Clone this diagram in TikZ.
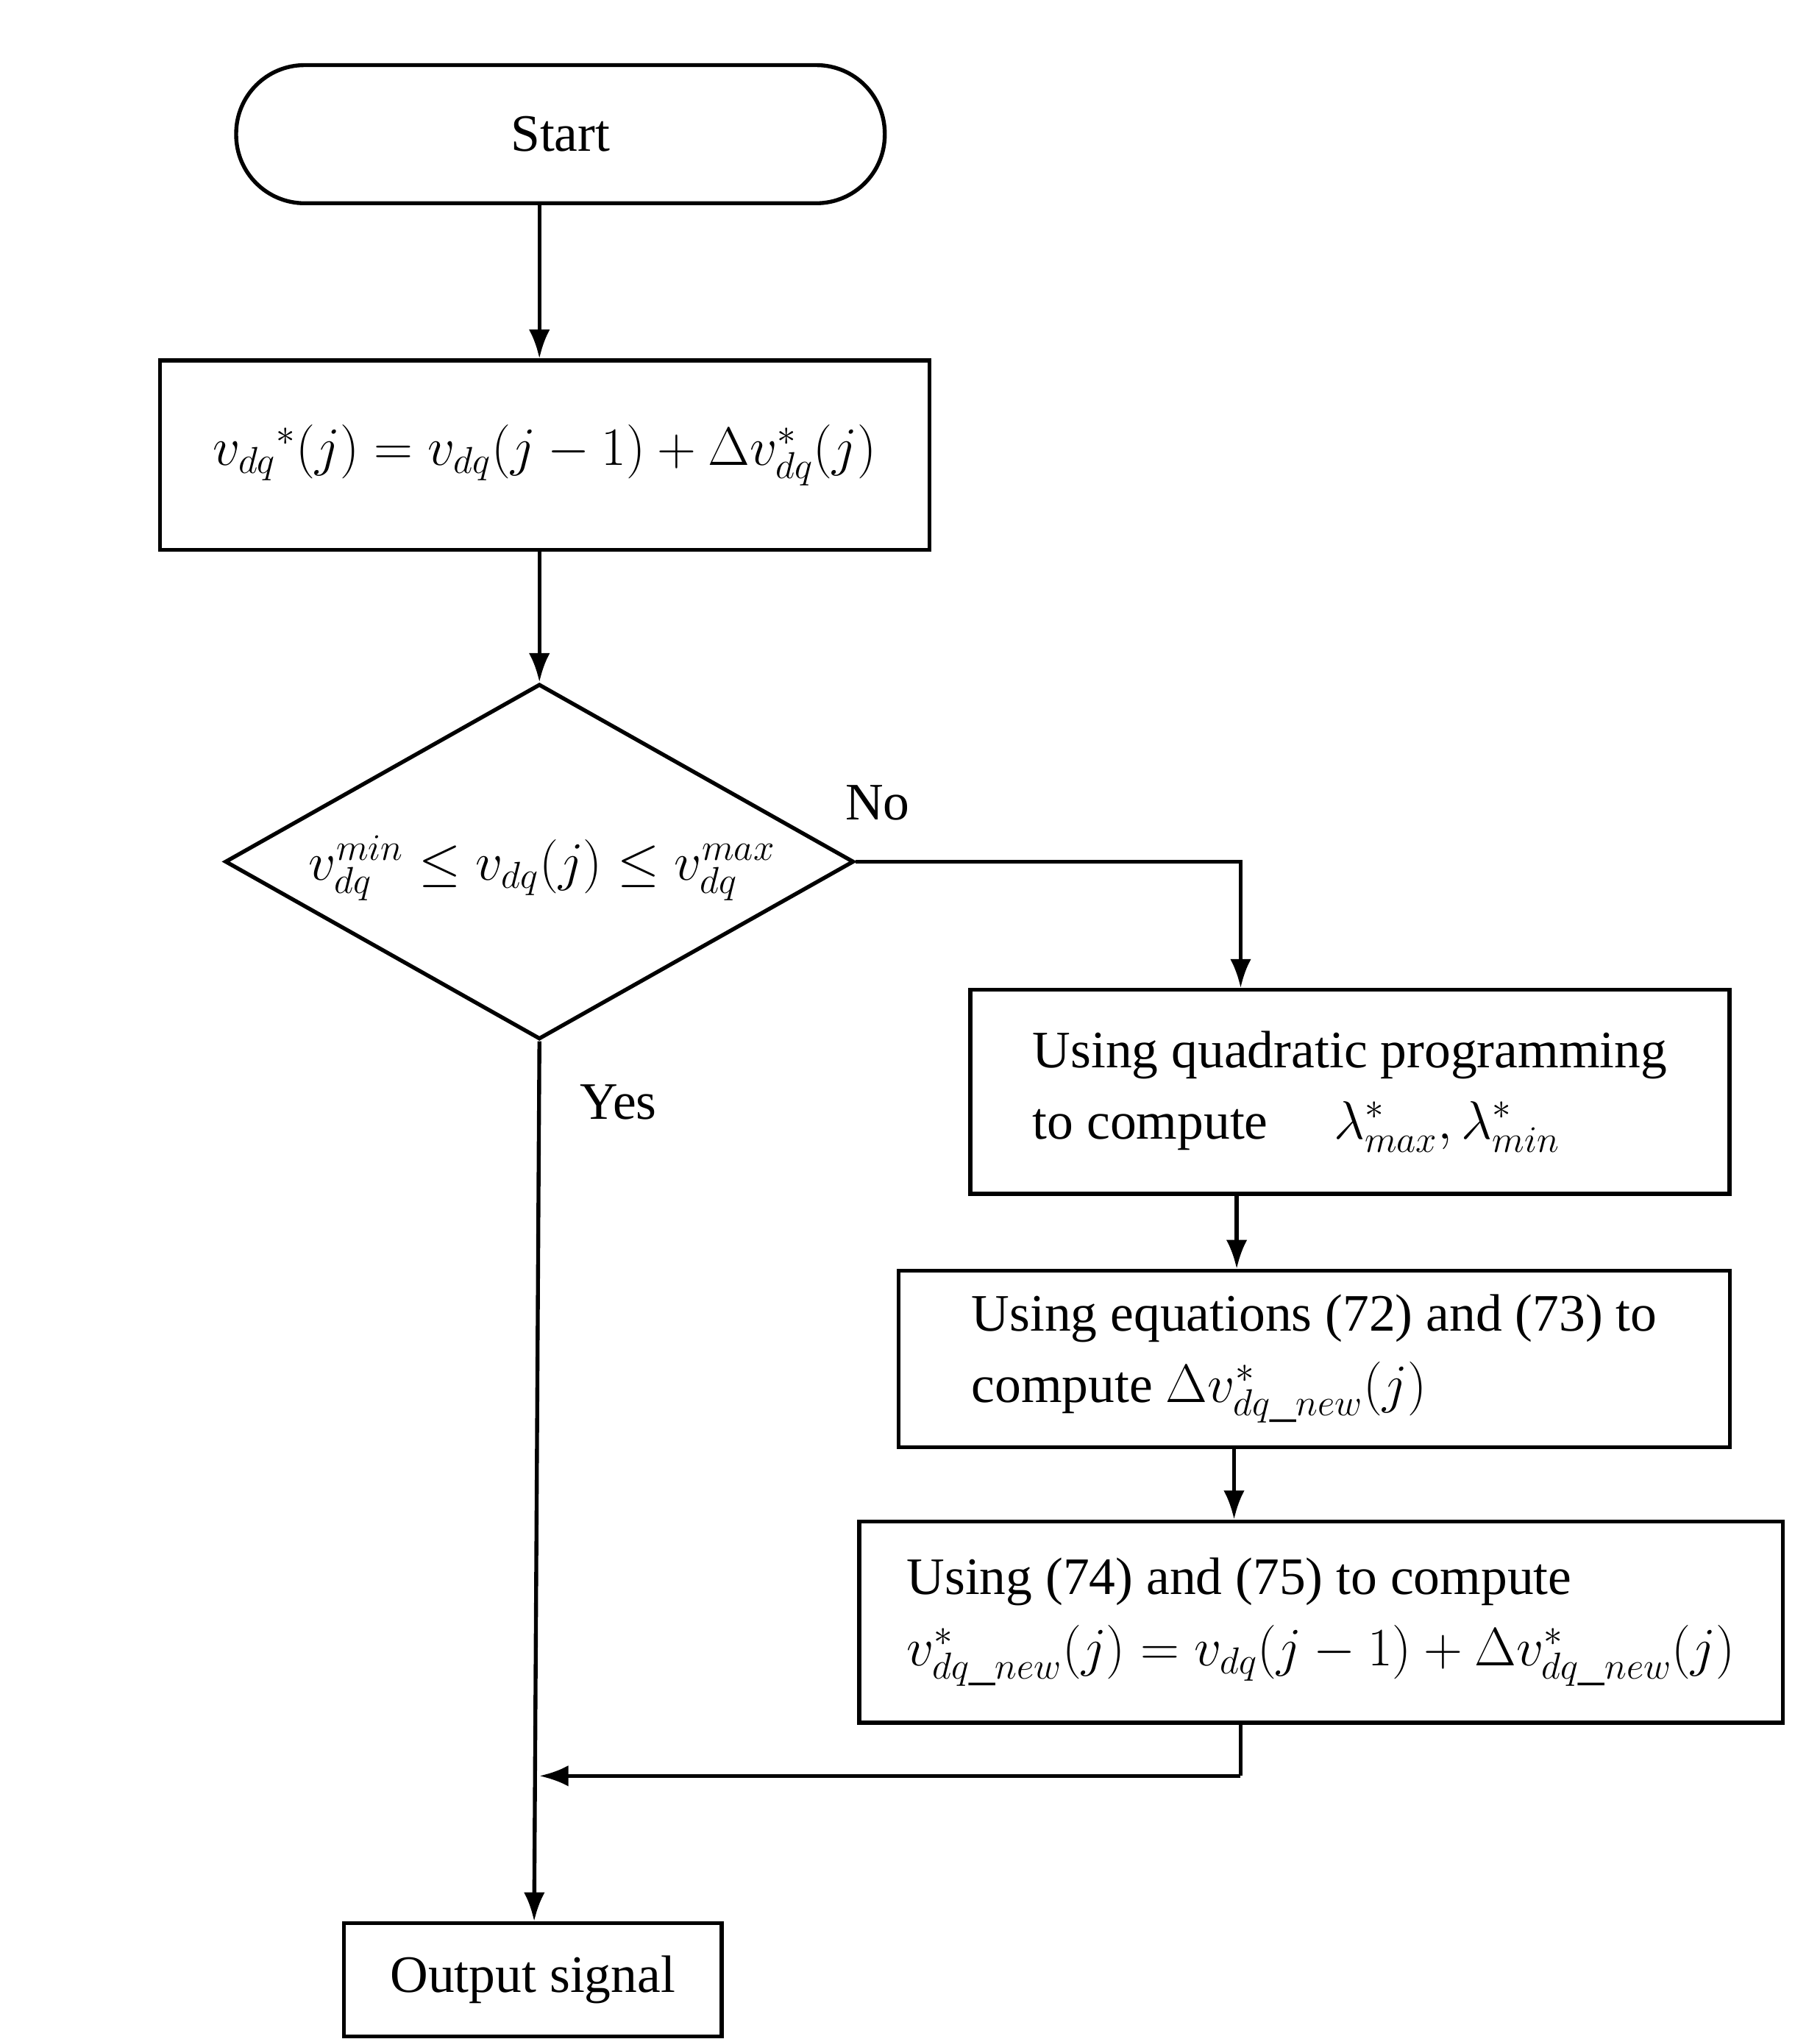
\documentclass[tikz,border=0pt]{standalone}
\usepackage{graphicx}
\usepackage{fontspec}
\setmainfont{Liberation Serif}
\newcommand{\mth}[1]{\scalebox{1.65}{\fontsize{24}{30}\selectfont$#1$}}
\usetikzlibrary{shapes.geometric,arrows.meta}
\begin{document}
\begin{tikzpicture}[x=1pt,y=-1pt,
  box/.style={draw,line width=3pt,inner sep=0pt,font=\fontsize{40}{54}\selectfont},
  arr/.style={line width=3pt,-{Latex[length=22pt,width=16pt]}},
  ln/.style={line width=3pt},
  lab/.style={font=\fontsize{40}{50}\selectfont}]
\useasboundingbox (0,0) rectangle (1383,1550);
\node[box,rounded corners=52pt,minimum width=493pt,minimum height=105pt] (start) at (426,102) {Start};
\node[box,minimum width=585pt,minimum height=144pt] (b1) at (414,346) {\mth{v_{dq}{}^{*}(j)=v_{dq}(j-1)+\Delta v^{*}_{dq}(j)}};
\node[draw,line width=3pt,diamond,aspect=1.77,minimum width=478pt,minimum height=270pt,inner sep=0pt] (d) at (410,655) {};
\node[lab] at (412,660) {\mth{v^{min}_{dq}\le v_{dq}(j)\le v^{max}_{dq}}};
\node[box,minimum width=577pt,minimum height=155pt,align=left] (q) at (1026,830) {Using quadratic programming\\to compute \quad \mth{\lambda^{*}_{max},\lambda^{*}_{min}}};
\node[box,minimum width=632pt,minimum height=134pt,align=left] (e) at (999,1033) {Using equations (72) and (73) to\\compute \mth{\Delta v^{*}_{dq\_new}(j)}};
\node[box,minimum width=702pt,minimum height=153pt,align=left] (u) at (1004,1233) {Using (74) and (75) to compute\\\mth{v^{*}_{dq\_new}(j)=v_{dq}(j-1)+\Delta v^{*}_{dq\_new}(j)}};
\node[box,minimum width=287pt,minimum height=86pt] (out) at (405,1505) {Output signal};
\node[lab] at (667,610) {No};
\node[lab] at (470,838) {Yes};
\coordinate (m) at (410,1350);
\coordinate (c) at (943,1350);
\draw[arr] (start.south -| 410,0) -- (b1.north -| 410,0);
\draw[arr] (b1.south -| 410,0) -- (d.north);
\draw[arr] (d.east) -| (q.north -| 943,0);
\draw[arr] (q.south -| 940,0) -- (e.north -| 940,0);
\draw[arr] (e.south -| 938,0) -- (u.north -| 938,0);
\draw[ln] (u.south -| 943,0) -- (c);
\draw[arr] (c) -- (m);
\draw[arr] (d.south) -- (out.north -| 406,0);
\end{tikzpicture}
\end{document}
